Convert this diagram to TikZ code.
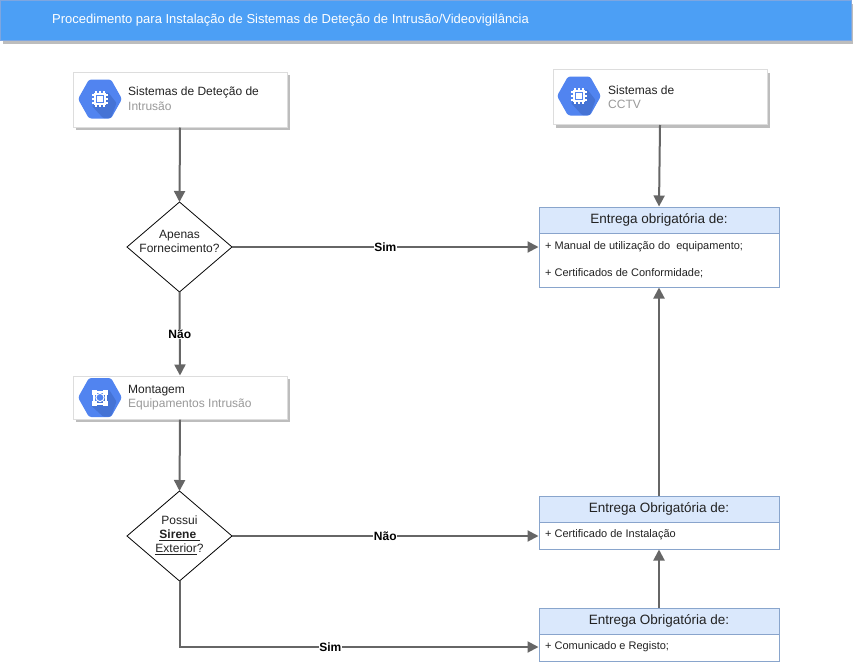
\documentclass[tikz,border=0pt]{standalone}
\usepackage{fontspec}
\setmainfont{Liberation Sans}
\usetikzlibrary{arrows.meta,calc}
\definecolor{hdr}{HTML}{4C9FF5}
\definecolor{hdrline}{HTML}{7EA6E0}
\definecolor{conn}{HTML}{666666}
\definecolor{shadowc}{HTML}{BDBDBD}
\definecolor{cardline}{HTML}{DDDDDD}
\definecolor{icon}{HTML}{5184F0}
\definecolor{icond}{HTML}{4573D5}
\definecolor{boxline}{HTML}{6C8EBF}
\definecolor{boxfill}{HTML}{DAE8FC}
\definecolor{txt}{HTML}{222222}
\definecolor{subt}{HTML}{999999}
\tikzset{
  arrowline/.style={draw=conn,line width=2pt,-{Triangle[length=11pt,width=11pt]},shorten >=0pt},
  lbl/.style={font=\bfseries\fontsize{12}{14}\selectfont,fill=white,inner sep=0.5pt,text=black},
  card/.style={draw=cardline,fill=white,line width=1pt,minimum height=1pt,inner sep=0pt},
  dec/.style={draw=black,fill=white,line width=0.8pt},
  t12/.style={font=\fontsize{12}{14}\selectfont,inner sep=0pt,text=txt,anchor=west},
  sub/.style={t12,text=subt},
  t11/.style={font=\fontsize{11}{13}\selectfont,inner sep=0pt,text=txt,anchor=west},
  head/.style={font=\fontsize{13.5}{16}\selectfont,inner sep=0pt,text=txt},
}
\newcommand{\cardbox}[5]{% name x1 y1 x2 y2
  \fill[shadowc] (#2+3,#3+3) rectangle (#4+3,#5+3);
  \node[card,minimum width=#4pt-#2pt,minimum height=#5pt-#3pt] (#1) at ({(#2+#4)/2},{(#3+#5)/2}) {};
}
\newcommand{\hexicon}[2]{% cx cy
  \begin{scope}[shift={(#1,#2)}]
  \fill[icon,rounded corners=2.5pt] (-22,0) -- (-11,-19.5) -- (11,-19.5) -- (22,0) -- (11,19.5) -- (-11,19.5) -- cycle;
  \end{scope}
}
\newcommand{\chipicon}[2]{%
  \begin{scope}[shift={(#1,#2)}]
  \fill[icond,rounded corners=1pt] (8,-7) -- (16.5,4) -- (11,19) -- (3,19) -- (-8,7) -- cycle;
  \fill[white] (-6,-6) rectangle (6,6);
  \fill[icon] (-4.2,-4.2) rectangle (4.2,4.2);
  \fill[white] (-2.6,-2.6) rectangle (2.6,2.6);
  \foreach \k in {-4,0,4}{
    \fill[white] (\k-0.8,-8) rectangle (\k+0.8,8);
    \fill[white] (-8,\k-0.8) rectangle (8,\k+0.8);
  }
  \fill[white] (-5.5,-5.5) rectangle (5.5,5.5);
  \fill[icon] (-4,-4) rectangle (4,4);
  \fill[white] (-2.6,-2.6) rectangle (2.6,2.6);
  \end{scope}
}
\newcommand{\neticon}[2]{%
  \begin{scope}[shift={(#1,#2)}]
  \fill[icond,rounded corners=1pt] (9,-8) -- (16.5,4) -- (11,19) -- (3,19) -- (-9,8) -- cycle;
  \draw[white,line width=2pt] (-6,-6) rectangle (6,6);
  \fill[white] (-8,-8) rectangle (-3,-3);
  \fill[white] (3,-8) rectangle (8,-3);
  \fill[white] (-8,3) rectangle (-3,8);
  \fill[white] (3,3) rectangle (8,8);
  \fill[white] (0,0) circle (4.6);
  \fill[icon] (0,0) circle (3.4);
  \end{scope}
}
\newcommand{\listbox}[7]{% name x1 y1 x2 ysplit y2 title
  \fill[white] (#2,#3) rectangle (#4,#6);
  \fill[boxfill] (#2,#3) rectangle (#4,#5);
  \draw[boxline!80!white,line width=1pt] (#2,#5) -- (#4,#5);
  \node[draw=boxline!80!white,line width=1pt,inner sep=0pt,minimum width=#4pt-#2pt,minimum height=#6pt-#3pt] (#1) at ({(#2+#4)/2},{(#3+#6)/2}) {};
  \node[head] at ({(#2+#4)/2},{(#3+#5)/2}) {#7};
}
\begin{document}
\begin{tikzpicture}[x=1pt,y=-1pt]
\useasboundingbox (0,0) rectangle (853,664);
\fill[white] (0,0) rectangle (853,664);
% header
\fill[shadowc] (3,4) rectangle (853,44);
\node[draw=hdrline,fill=hdr,line width=1pt,inner sep=0pt,minimum width=851pt,minimum height=40pt] (header) at (426,20.5) {};
\node[font=\fontsize{13}{15}\selectfont,text=white,inner sep=0pt,anchor=west] (title) at (52,20.5) {Procedimento para Instalação de Sistemas de Deteção de Intrusão/Videovigilância};
% cards
\cardbox{c1}{73}{72}{287}{127}
\hexicon{100}{99}\chipicon{100}{99}
\node[t12] at (128,92.5) {Sistemas de Deteção de};
\node[sub] at (128,106.5) {Intrusão};
\cardbox{c2}{553}{69.5}{767}{124.5}
\hexicon{579}{96}\chipicon{579}{96}
\node[t12] at (608,90.5) {Sistemas de};
\node[sub] at (608,104.5) {CCTV};
\cardbox{c3}{73}{376}{287}{419}
\hexicon{100}{397.5}\neticon{100}{397.5}
\node[t12] at (128,390.5) {Montagem};
\node[sub] at (128,404.5) {Equipamentos Intrusão};
% decisions
\draw[dec] (179.5,202) -- (232,247) -- (179.5,292) -- (127,247) -- cycle;
\coordinate (d1n) at (179.5,202); \coordinate (d1e) at (232,247); \coordinate (d1s) at (179.5,292);
\node[font=\fontsize{12}{14}\selectfont,text=txt,align=center,inner sep=0pt] (d1t) at (179.5,241.5) {Apenas\\Fornecimento?};
\draw[dec] (179.5,491) -- (232,536) -- (179.5,581) -- (127,536) -- cycle;
\coordinate (d2n) at (179.5,491); \coordinate (d2e) at (232,536); \coordinate (d2s) at (179.5,581);
\node[font=\fontsize{12}{14}\selectfont,text=txt,align=center,inner sep=0pt] (d2t) at (179.5,535.5) {Possui\\[0pt]\underline{\textbf{Sirene }}\\\underline{Exterior}?};
% list boxes
\listbox{b1}{539}{207}{779}{233}{287}{Entrega obrigatória de:}
\node[t11] at (545,247) {+ Manual de utilização do\ \ equipamento;};
\node[t11] at (545,273) {+ Certificados de Conformidade;};
\listbox{b2}{539}{496}{779}{522}{549}{Entrega Obrigatória de:}
\node[t11] at (545,535) {+ Certificado de Instalação};
\listbox{b3}{539}{608}{779}{634}{661}{Entrega Obrigatória de:}
\node[t11] at (545,647) {+ Comunicado e Registo;};
% connectors
\draw[arrowline] (c1.south) -- (d1n);
\draw[arrowline] (c2.south) -- (b1.north);
\draw[arrowline] (d1s) -- (c3.north) node[lbl,pos=0.5] {Não};
\draw[arrowline] (c3.south) -- (d2n);
\draw[arrowline] (d1e) -- (b1.west |- d1e) node[lbl,pos=0.5] {Sim};
\draw[arrowline] (d2e) -- (b2.west |- d2e) node[lbl,pos=0.5] {Não};
\draw[arrowline] (d2s) |- (b3.west |- 0,647) node[lbl,pos=0.71] {Sim};
\draw[arrowline] (b3.north) -- (b2.south);
\draw[arrowline] (b2.north) -- (b1.south);
\end{tikzpicture}
\end{document}
